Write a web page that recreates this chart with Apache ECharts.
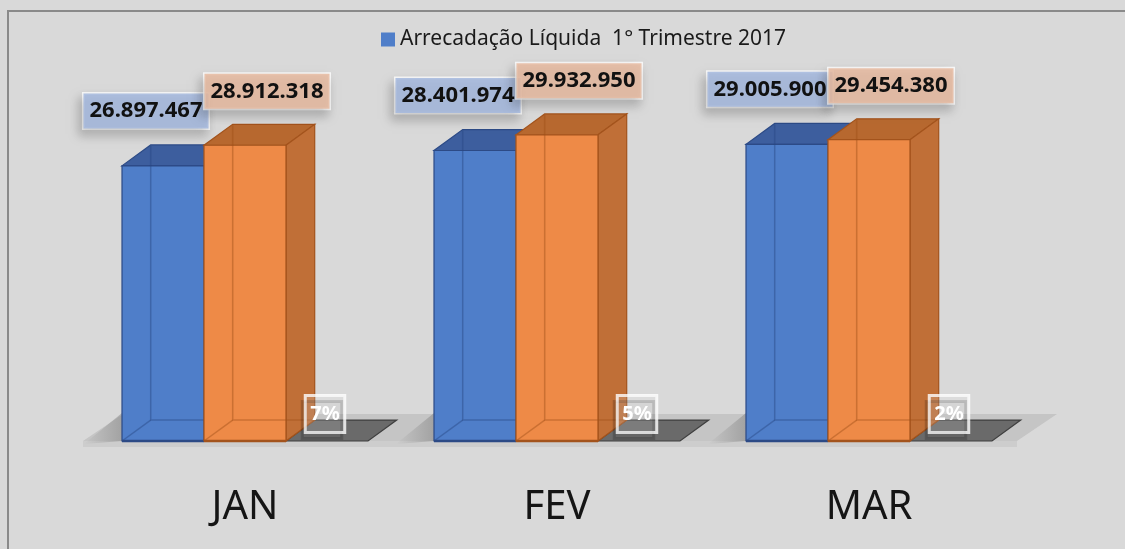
<!DOCTYPE html>
<html>
<head>
<meta charset="utf-8">
<script src="https://cdn.jsdelivr.net/npm/echarts@6/dist/echarts.min.js"></script>
<style>
html,body{margin:0;padding:0;background:#d9d9d9;}
#frame{position:absolute;left:7px;top:10px;width:1130px;height:560px;border-left:2px solid #8a8a8a;border-top:2px solid #8a8a8a;box-sizing:border-box;background:#d9d9d9;}
#chart{position:absolute;left:0;top:0;width:1125px;height:549px;}
</style>
</head>
<body>
<div id="frame"></div>
<div id="chart"></div>
<script>
// ---- data ----
var categories = ['JAN', 'FEV', 'MAR'];
var seriesName = 'Arrecadação Líquida  1° Trimestre 2017';
var values2016 = [26897467, 28401974, 29005900];   // blue
var values2017 = [28912318, 29932950, 29454380];   // orange
var growthPct = [7, 5, 2];                           // gray floor bars (%)

var chart = echarts.init(document.getElementById('chart'), null, {renderer: 'canvas'});

function fmt(n) {
  return String(n).replace(/\B(?=(\d{3})+(?!\d))/g, '.');
}

var GROUP_FRAC = 246 / 312;   // share of category slot used by the 3 bars
var styles = [
  {front: '#4f7ec9', top: '#3d5e9e', side: '#3b5a96', edge: '#2c4a86', inner: 'rgba(40,70,130,0.45)',
   lblBg: 'rgba(164,184,222,0.85)', lblDx: -17, lblDy: -55},
  {front: '#ee8a47', top: '#b7682f', side: '#c06f37', edge: '#a3531c', inner: 'rgba(160,80,25,0.45)',
   lblBg: 'rgba(230,186,160,0.85)', lblDx: 22, lblDy: -54},
  {front: '#6a6a6a', top: '#6a6a6a', side: '#555555', edge: '#3f3f3f', inner: 'rgba(0,0,0,0)',
   lblBg: 'rgba(235,235,235,0.18)', lblDx: -2, lblDy: -27}
];

function geom(sIdx, params, api) {
  var cat = api.value(0);
  var val = api.value(1);
  var slot = api.size([1, 0])[0];
  var groupW = slot * GROUP_FRAC;
  var w = groupW / 3;
  var center = api.coord([cat, 0]);
  var base = center[1];
  var topPt = api.coord([cat, val]);
  var topY = sIdx === 2 ? base : topPt[1];
  var x0 = center[0] - groupW / 2 + sIdx * w;
  return {x0: x0, x1: x0 + w, w: w, base: base, topY: topY, dx: w * 0.35, dy: -w * 0.255};
}

function makeRender(sIdx) {
  return function (params, api) {
    var g = geom(sIdx, params, api);
    var x0 = g.x0, x1 = g.x1, w = g.w, base = g.base, topY = g.topY, dx = g.dx, dy = g.dy;
    var st = styles[sIdx];
    var children = [];
    if (sIdx === 0) {
      children.push({type: 'polygon', shape: {points: [[x0, base], [x0 - 38, base + 3], [x0, base - 28]]},
        style: {fill: new echarts.graphic.LinearGradient(1, 0, 0, 0, [
          {offset: 0, color: 'rgba(120,120,120,0.45)'}, {offset: 1, color: 'rgba(120,120,120,0)'}])}});
    }
    children.push({type: 'polygon', shape: {points: [[x0, topY], [x1, topY], [x1 + dx, topY + dy], [x0 + dx, topY + dy]]},
      style: {fill: st.top, stroke: st.edge, lineWidth: 1.2}});
    if (sIdx !== 2) {
      children.push({type: 'polygon', shape: {points: [[x1, topY], [x1 + dx, topY + dy], [x1 + dx, base + dy], [x1, base]]},
        style: {fill: st.side, stroke: st.edge, lineWidth: 1.2}});
      children.push({type: 'rect', shape: {x: x0, y: topY, width: w, height: base - topY},
        style: {fill: st.front, stroke: st.edge, lineWidth: 1.2}});
      children.push({type: 'polyline', shape: {points: [[x0 + dx, topY + dy + 1], [x0 + dx, base + dy], [x1 + dx, base + dy]]},
        style: {fill: null, stroke: st.inner, lineWidth: 1.5}});
      children.push({type: 'line', shape: {x1: x0, y1: base, x2: x0 + dx, y2: base + dy},
        style: {stroke: st.inner, lineWidth: 1.5}});
      children.push({type: 'line', shape: {x1: x0, y1: base, x2: x1, y2: base},
        style: {stroke: st.edge, lineWidth: 2.5}});
    }
    return {type: 'group', children: children};
  };
}

function makeLabelRender(sIdx, labels) {
  return function (params, api) {
    var g = geom(sIdx, params, api);
    var st = styles[sIdx];
    var lx = (g.x0 + g.x1) / 2 + st.lblDx;
    var ly = g.topY + st.lblDy;
    var pct = sIdx === 2;
    return {type: 'text', style: {
      text: labels[params.dataIndex], x: lx, y: ly, align: 'center', verticalAlign: 'middle',
      font: 'bold ' + (pct ? 20 : 22) + 'px "Noto Sans"', fill: pct ? '#ffffff' : '#111111',
      backgroundColor: st.lblBg, borderColor: 'rgba(255,255,255,0.8)', borderWidth: 1.5,
      padding: pct ? [9, 5, 8, 5] : [7, 6, 6, 6],
      shadowBlur: pct ? 0 : 10, shadowColor: 'rgba(0,0,0,0.22)', shadowOffsetX: -3, shadowOffsetY: 6
    }};
  };
}

function floorRender(params, api) {
  var cs = params.coordSys;
  var base = cs.y + cs.height;
  var xl = cs.x - 6, xr = cs.x + cs.width - 8;
  var dx = 40, dy = -27;
  return {type: 'group', children: [
    {type: 'polygon', shape: {points: [[xl, base], [xr, base], [xr + dx, base + dy], [xl + dx, base + dy]]},
      style: {fill: '#c5c5c5'}},
    {type: 'rect', shape: {x: xl, y: base, width: xr - xl, height: 6}, style: {fill: '#cdcdcd'}}
  ]};
}

function toData(arr) { return arr.map(function (v, i) { return [i, v]; }); }

var pctData = toData(growthPct.map(function (p) { return p / 100; }));
var pctLabels = growthPct.map(function (p) { return p + '%'; });

chart.setOption({
  backgroundColor: 'transparent',
  animation: false,
  legend: {
    data: [{name: seriesName, icon: 'rect'}],
    top: 24, left: 376,
    itemWidth: 14, itemHeight: 14, itemGap: 5,
    textStyle: {fontFamily: 'Noto Sans', fontSize: 21, color: '#1a1a1a'}
  },
  grid: {left: 89, right: 100, top: 83, bottom: 108},
  xAxis: {
    type: 'category', data: categories,
    axisLine: {show: false}, axisTick: {show: false}, splitLine: {show: false},
    axisLabel: {fontFamily: 'Noto Sans', fontSize: 40, color: '#151515', margin: 47}
  },
  yAxis: {type: 'value', min: 0, max: 35000000, show: false, splitLine: {show: false}},
  series: [
    {type: 'custom', name: 'floor', renderItem: floorRender, data: [[0, 0]], z: 1, silent: true},
    {type: 'custom', name: seriesName, itemStyle: {color: '#4f7ec9'}, renderItem: makeRender(0),
      data: toData(values2016), z: 3},
    {type: 'custom', name: 'Arrecadação 2017', itemStyle: {color: '#ee8a47'}, renderItem: makeRender(1),
      data: toData(values2017), z: 4},
    {type: 'custom', name: 'Variação', itemStyle: {color: '#6a6a6a'}, renderItem: makeRender(2),
      data: pctData, z: 2},
    {type: 'custom', name: 'lbl0', renderItem: makeLabelRender(0, values2016.map(fmt)), data: toData(values2016), z: 10, silent: true},
    {type: 'custom', name: 'lbl1', renderItem: makeLabelRender(1, values2017.map(fmt)), data: toData(values2017), z: 11, silent: true},
    {type: 'custom', name: 'lbl2', renderItem: makeLabelRender(2, pctLabels), data: pctData, z: 12, silent: true}
  ]
});
</script>
</body>
</html>
